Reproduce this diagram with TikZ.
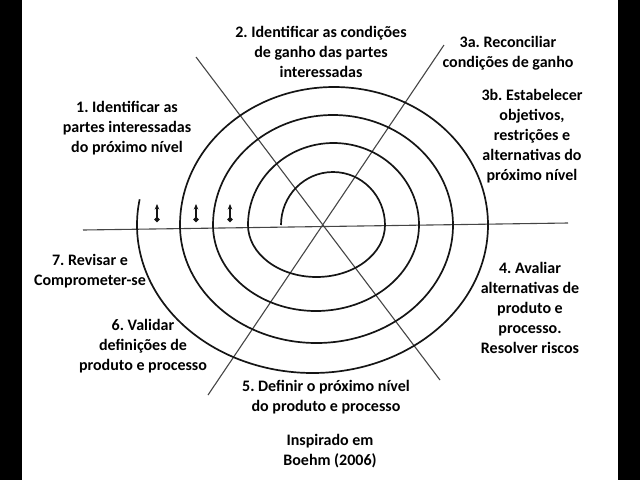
\documentclass[tikz,border=0pt]{standalone}
\usepackage{fontspec}
\setmainfont{Carlito}[BoldFont={Carlito Bold}]
\frenchspacing
\usetikzlibrary{arrows.meta}
\definecolor{ink}{HTML}{151515}
\definecolor{raygray}{HTML}{454545}

\begin{document}
\begin{tikzpicture}[x=1pt,y=-1pt,
    lbl/.style={align=center,inner sep=0pt,font=\fontsize{16}{20}\selectfont\bfseries},
    ring/.style={ink,line width=1.7pt},
    ray/.style={raygray,line width=1.1pt}]
        \useasboundingbox (0,0) rectangle (640,480);
        \fill[black] (0,0) rectangle (22,480);
        \fill[black] (618,0) rectangle (640,480);
        \draw[ray] (83,230)--(568,223);
        \draw[ray] (196,57)--(440,380);
        \draw[ray] (444,45)--(208,395);
        \draw[ring] (281,225)
          arc[start angle=180,end angle=0,x radius=52pt,y radius=53pt]
          arc[start angle=0,end angle=-180,x radius=68.5pt,y radius=52pt]
          arc[start angle=180,end angle=0,x radius=85.5pt,y radius=82pt]
          arc[start angle=0,end angle=-180,x radius=103pt,y radius=86pt]
          arc[start angle=180,end angle=0,x radius=120pt,y radius=110pt]
          arc[start angle=0,end angle=-180,x radius=136.5pt,y radius=118pt]
          arc[start angle=180,end angle=0,x radius=154pt,y radius=138pt]
          arc[start angle=0,end angle=-190,x radius=175.5pt,y radius=148pt];
        \foreach \x in {157,196,230}{\draw[ink,line width=1.3pt,{Circle[length=5pt]}-{Stealth[length=5.5pt,width=4.5pt]}] (\x,222)--(\x,204);}
        \node[lbl] (win) at (321,52){2. Identificar as condições\\de ganho das partes\\interessadas};
        \node[lbl] (reconcile) at (508,53){3a. Reconciliar\\condições de ganho};
        \node[lbl] (goals) at (532,136){3b. Estabelecer\\objetivos,\\restrições e\\alternativas do\\próximo nível};
        \node[lbl] (evaluate) at (530,308){4. Avaliar\\alternativas de\\produto e\\processo.\\Resolver riscos};
        \node[lbl] (define) at (326,397){5. Definir o próximo nível\\do produto e processo};
        \node[lbl] (validate) at (143,346){6. Validar\\definições de\\produto e processo};
        \node[lbl] (review) at (90,271){7. Revisar e\\Comprometer-se};
        \node[lbl] (stake) at (127,128){1. Identificar as\\partes interessadas\\do próximo nível};
        \node[lbl] (source) at (330,451){Inspirado em\\Boehm (2006)};
      \end{tikzpicture}
\end{document}
